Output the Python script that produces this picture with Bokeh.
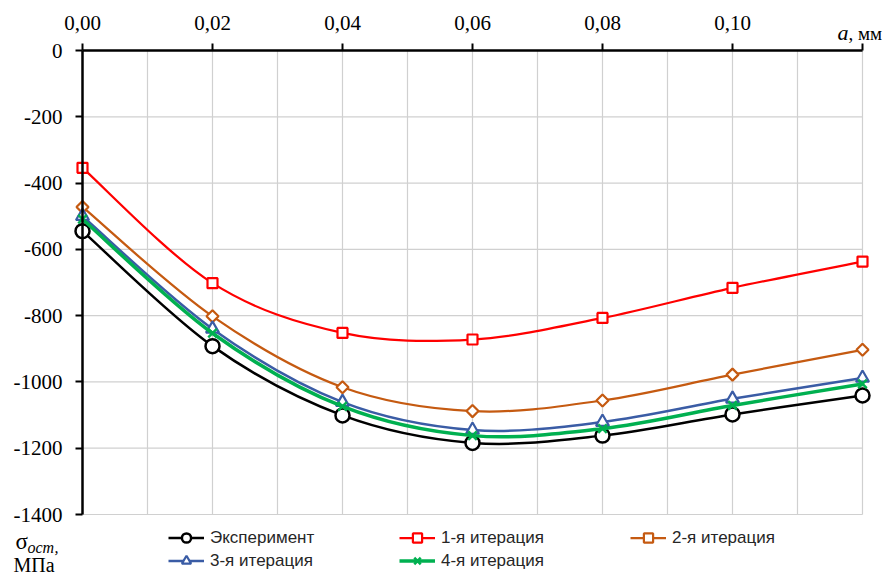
import numpy as np
from bokeh.plotting import figure
from bokeh.models import (Range1d, FixedTicker, CustomJSTickFormatter, Legend,
                          LegendItem, Label, ColumnDataSource)
from bokeh.embed import file_html
from bokeh.resources import INLINE

# ---------------- data ----------------
a_mm = [0.00, 0.02, 0.04, 0.06, 0.08, 0.10, 0.12]
exp_vals = [-545, -892, -1101, -1184, -1162, -1098, -1041]
iter1 = [-354, -702, -852, -872, -807, -716, -637]
iter2 = [-472, -802, -1016, -1088, -1056, -978, -903]
iter3 = [-500, -840, -1061, -1145, -1121, -1051, -988]
iter4 = [-509, -853, -1074, -1162, -1141, -1071, -1006]

series_names = ["Эксперимент", "1-я итерация", "2-я итерация", "3-я итерация", "4-я итерация"]
x_ticks = [0.00, 0.02, 0.04, 0.06, 0.08, 0.10, 0.12]
y_ticks = [-1400, -1200, -1000, -800, -600, -400, -200, 0]
x_grid = [0.01, 0.02, 0.03, 0.04, 0.05, 0.06, 0.07, 0.08, 0.09, 0.10, 0.11, 0.12]
y_grid = [-1400, -1200, -1000, -800, -600, -400, -200]

# ---------------- geometry (canvas pixels) ----------------
W, H = 890, 576
X0_PX, X12_PX = 82, 862       # pixel columns of a = 0 and a = 0.12
Y0_PX, Y1400_PX = 50, 514     # pixel rows of 0 and -1400
PX_PER_X = (X12_PX - X0_PX) / 0.12
PX_PER_Y = (Y1400_PX - Y0_PX) / 1400


def X(px):
    return (px - X0_PX) / PX_PER_X


def Y(py):
    return (Y0_PX - py) / PX_PER_Y


p = figure(width=W, height=H, output_backend="svg", toolbar_location=None,
           x_axis_location="above",
           x_range=Range1d(X(0), X(W)), y_range=Range1d(Y(H), Y(0)),
           min_border=0)
p.outline_line_color = None
p.xgrid.visible = False
p.ygrid.visible = False
p.background_fill_color = "white"
p.border_fill_color = "white"

# grid lines
grid_col = "#d0d0d0"
p.segment(x0=x_grid, x1=x_grid, y0=[-1400] * len(x_grid), y1=[0] * len(x_grid),
          line_color=grid_col, line_width=1.2)
p.segment(x0=[0] * len(y_grid), x1=[0.12] * len(y_grid), y0=y_grid, y1=y_grid,
          line_color=grid_col, line_width=1.2)

# axes
xa = p.xaxis[0]
xa.ticker = FixedTicker(ticks=x_ticks)
xa.formatter = CustomJSTickFormatter(
    code="if (tick > 0.11) { return ''; } return tick.toFixed(2).replace('.', ',');")
xa.bounds = (0, 0.12)
xa.fixed_location = 0
ya = p.yaxis[0]
ya.ticker = FixedTicker(ticks=y_ticks)
ya.formatter = CustomJSTickFormatter(code="return Math.round(tick).toString();")
ya.fixed_location = 0
ya.bounds = (-1400, 0)
for ax in (xa, ya):
    ax.axis_line_width = 2.5
    ax.axis_line_color = "black"
    ax.major_tick_line_width = 2
    ax.major_tick_line_color = "black"
    ax.major_tick_out = 7
    ax.major_tick_in = 0
    ax.minor_tick_line_color = None
    ax.major_label_text_font = "Liberation Serif"
    ax.major_label_text_font_size = "21px"
    ax.major_label_text_color = "black"
xa.major_label_standoff = 14
ya.major_label_standoff = 13


def smooth(xs, ys):
    n = len(xs)
    d = dict(x0=[], y0=[], x1=[], y1=[], cx0=[], cy0=[], cx1=[], cy1=[])
    for i in range(n - 1):
        a = i - 1 if i > 0 else i
        b = i + 2 if i + 2 < n else i + 1
        d["x0"].append(xs[i]); d["y0"].append(ys[i])
        d["x1"].append(xs[i + 1]); d["y1"].append(ys[i + 1])
        d["cx0"].append(xs[i] + (xs[i + 1] - xs[a]) / 6)
        d["cy0"].append(ys[i] + (ys[i + 1] - ys[a]) / 6)
        d["cx1"].append(xs[i + 1] - (xs[b] - xs[i]) / 6)
        d["cy1"].append(ys[i + 1] - (ys[b] - ys[i]) / 6)
    return ColumnDataSource(d)


styles = [
    dict(vals=exp_vals, color="black", lw=2.5, marker="circle", size=14, mlw=2.5, angle=0),
    dict(vals=iter1, color="#ff0000", lw=2.25, marker="square", size=10, mlw=2.2, angle=0),
    dict(vals=iter2, color="#c55a11", lw=2.25, marker="square", size=8.5, mlw=2.2, angle=np.pi / 4),
    dict(vals=iter3, color="#3a5ca5", lw=2.5, marker="triangle", size=13, mlw=2.2, angle=0),
    dict(vals=iter4, color="#00b050", lw=3.5, marker="x", size=12, mlw=2.5, angle=0),
]

items = []
for name, st in zip(series_names, styles):
    src = smooth(a_mm, st["vals"])
    r_line = p.bezier(x0="x0", y0="y0", x1="x1", y1="y1", cx0="cx0", cy0="cy0",
                      cx1="cx1", cy1="cy1", source=src, line_color=st["color"],
                      line_width=st["lw"])
    r_pts = p.scatter(a_mm, st["vals"], marker=st["marker"], size=st["size"],
                      angle=st["angle"], line_color=st["color"], line_width=st["mlw"],
                      fill_color="white")
    items.append(LegendItem(label=name, renderers=[r_line, r_pts]))

legend = Legend(items=items, location=(168, 4), orientation="horizontal", ncols=3,
                padding=0, margin=0, spacing=0, glyph_width=36, glyph_height=23,
                label_standoff=6, label_width=189, label_height=23,
                label_text_font="Liberation Sans", label_text_font_size="17px",
                label_text_color="#262626",
                background_fill_alpha=0, border_line_alpha=0)
p.add_layout(legend, "center")

texts = [
    dict(x=837, y=32, text="a", font_size="22px", style="italic"),
    dict(x=848, y=33, text=", мм", font_size="19px", style="normal"),
    dict(x=15, y=541, text="σ", font_size="23px", style="normal"),
    dict(x=27, y=547, text="ост,", font_size="16px", style="italic"),
    dict(x=13, y=564, text="МПа", font_size="20px", style="normal"),
]
for t in texts:
    p.add_layout(Label(x=X(t["x"]), y=Y(t["y"]), text=t["text"], text_font="Liberation Serif",
                       text_font_size=t["font_size"], text_font_style=t["style"],
                       text_baseline="middle", text_align="left", text_color="black"))

open("out.html", "w").write(file_html(p, INLINE))
